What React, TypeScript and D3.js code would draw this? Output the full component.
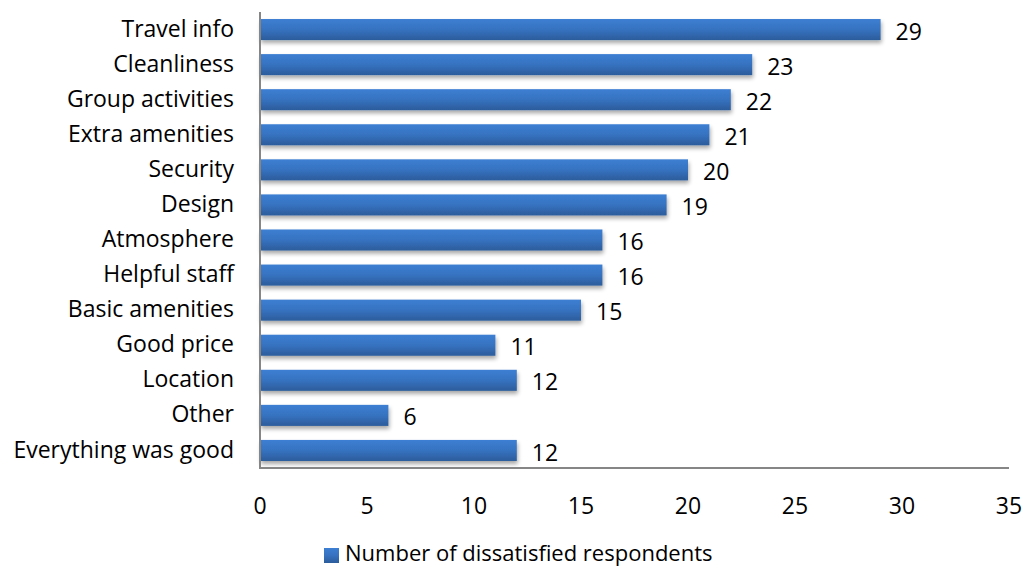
import React from "react";
import * as d3 from "d3";

const categories = [
  "Travel info",
  "Cleanliness",
  "Group activities",
  "Extra amenities",
  "Security",
  "Design",
  "Atmosphere",
  "Helpful staff",
  "Basic amenities",
  "Good price",
  "Location",
  "Other",
  "Everything was good",
];
const values = [29, 23, 22, 21, 20, 19, 16, 16, 15, 11, 12, 6, 12];
const xTicks = [0, 5, 10, 15, 20, 25, 30, 35];
const seriesName = "Number of dissatisfied respondents";

const W = 1023;
const H = 569;
const plotLeft = 260;
const plotRight = 1009;
const plotTop = 12;
const plotBottom = 468;
const font = "'Open Sans', sans-serif";
const fontSize = 23;

export default function App() {
  const x = d3.scaleLinear().domain([0, 35]).range([plotLeft, plotRight]);
  const y = d3
    .scaleBand<string>()
    .domain(categories)
    .range([plotTop, plotBottom])
    .paddingInner(0.4)
    .paddingOuter(0.2);

  return (
    <svg
      width={W}
      height={H}
      style={{ position: "absolute", left: 0, top: 0, background: "#fff" }}
    >
      <defs>
        <linearGradient id="barFill" x1="0" y1="0" x2="0" y2="1">
          <stop offset="0" stopColor="#3d7fd3" />
          <stop offset="0.5" stopColor="#3672c0" />
          <stop offset="1" stopColor="#2c5c9b" />
        </linearGradient>
        <filter id="barShadow" x="-5%" y="-30%" width="110%" height="180%">
          <feGaussianBlur in="SourceAlpha" stdDeviation="2" />
          <feOffset dx="1" dy="3" result="blur" />
          <feComponentTransfer>
            <feFuncA type="linear" slope="0.35" />
          </feComponentTransfer>
          <feMerge>
            <feMergeNode />
            <feMergeNode in="SourceGraphic" />
          </feMerge>
        </filter>
      </defs>

      {/* bars */}
      {categories.map((c, i) => (
        <rect
          key={c}
          x={x(0)}
          y={y(c)!}
          width={x(values[i]) - x(0)}
          height={y.bandwidth()}
          fill="url(#barFill)"
          filter="url(#barShadow)"
        />
      ))}

      {/* axes */}
      <line x1={plotLeft} x2={plotLeft} y1={plotTop} y2={plotBottom} stroke="#868686" strokeWidth={2} />
      <line x1={plotLeft - 1} x2={plotRight} y1={plotBottom} y2={plotBottom} stroke="#868686" strokeWidth={2} />

      {/* category labels */}
      {categories.map((c) => (
        <text
          key={c}
          x={234}
          y={y(c)! + y.bandwidth() / 2 - 1}
          dy="0.35em"
          textAnchor="end"
          fontFamily={font}
          fontSize={fontSize}
          fill="#000"
        >
          {c}
        </text>
      ))}

      {/* value labels */}
      {categories.map((c, i) => (
        <text
          key={c}
          x={x(values[i]) + 15}
          y={y(c)! + y.bandwidth() / 2 + 2}
          dy="0.35em"
          fontFamily={font}
          fontSize={fontSize}
          fill="#000"
        >
          {values[i]}
        </text>
      ))}

      {/* x tick labels */}
      {xTicks.map((t) => (
        <text
          key={t}
          x={x(t)}
          y={506}
          dy="0.35em"
          textAnchor="middle"
          fontFamily={font}
          fontSize={fontSize}
          fill="#000"
        >
          {t}
        </text>
      ))}

      {/* legend */}
      <rect x={324} y={548} width={15} height={15} fill="url(#barFill)" />
      <text x={345} y={553} dy="0.35em" fontFamily={font} fontSize={22} fill="#000">
        {seriesName}
      </text>
    </svg>
  );
}
